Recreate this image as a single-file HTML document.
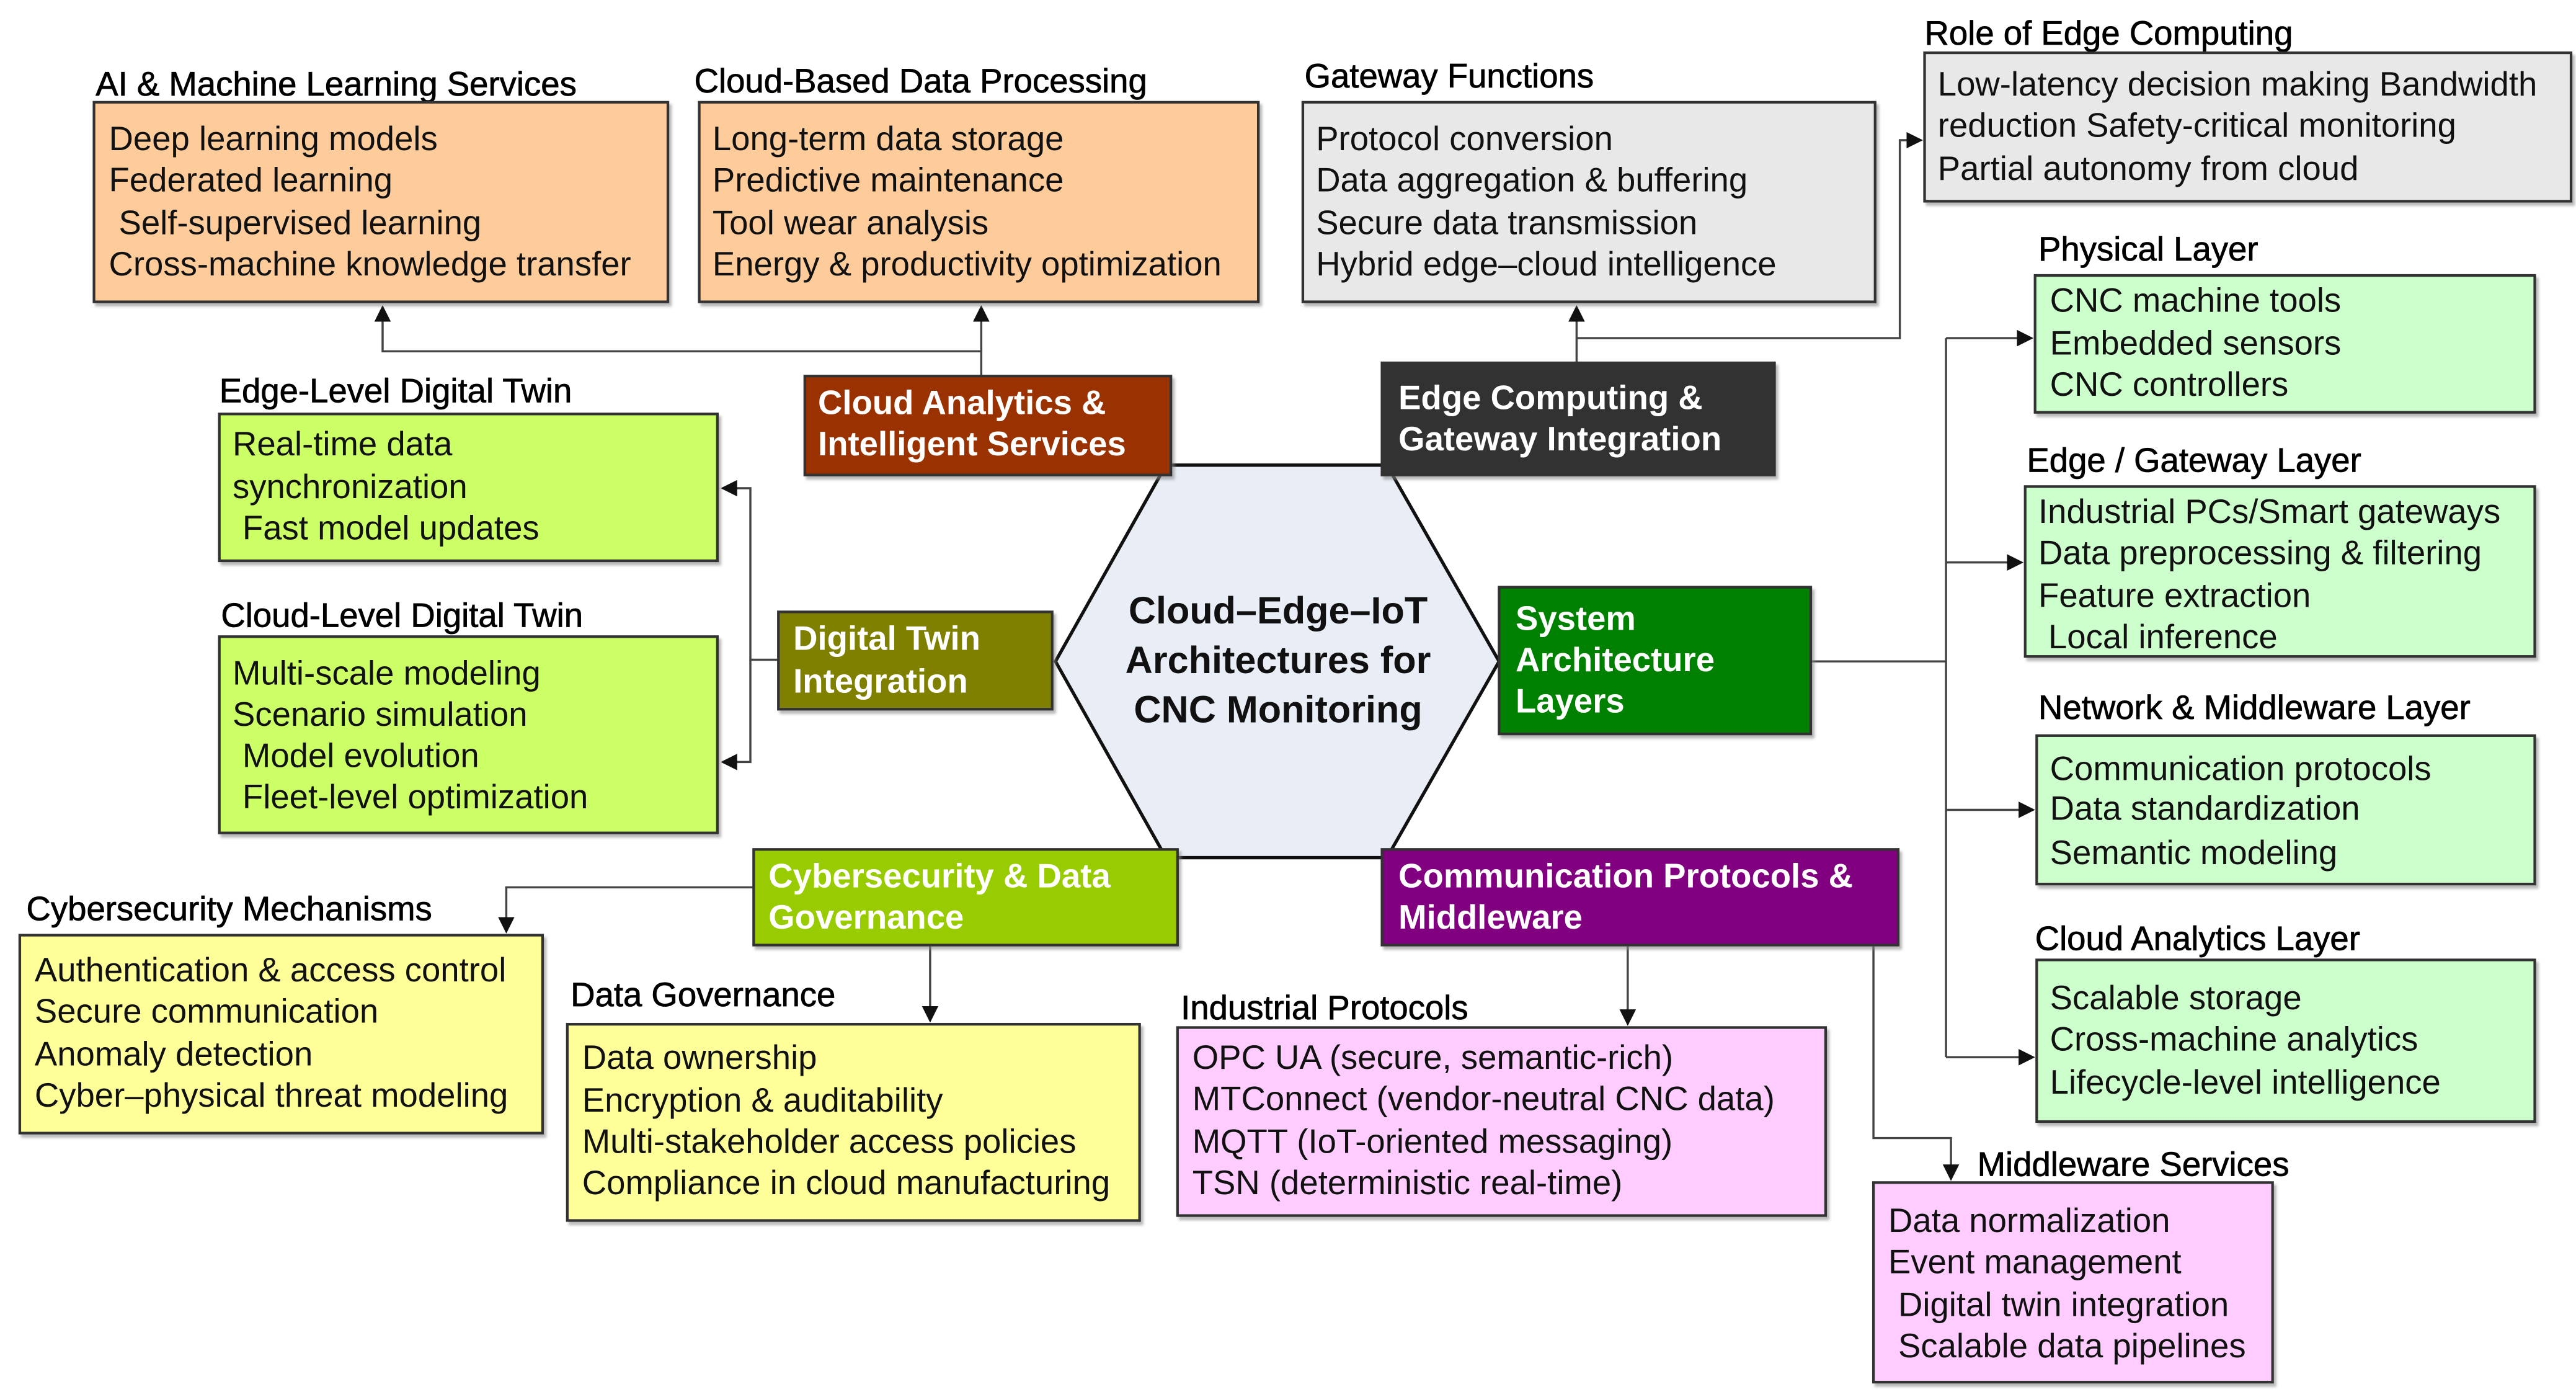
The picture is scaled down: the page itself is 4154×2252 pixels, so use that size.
<!DOCTYPE html>
<html><head><meta charset="utf-8"><style>
html,body{margin:0;padding:0;background:#fff;}
svg{display:block;}
text{font-family:"Liberation Sans",Arial,sans-serif;}
.t{font-size:20.5px;fill:#111;}
.h{font-size:20.5px;fill:#000;stroke:#000;stroke-width:0.3;}
.w{font-size:20.5px;fill:#fff;font-weight:bold;}
.c{font-size:23px;font-weight:bold;fill:#111;}
.b{stroke:#333;stroke-width:1.6;}
.l{stroke:#444;stroke-width:1.3;fill:none;}
</style></head><body>
<svg width="4154" height="2252" viewBox="0 0 1562 847" preserveAspectRatio="none" xmlns="http://www.w3.org/2000/svg">
<defs>
<marker id="a" markerWidth="10" markerHeight="10" refX="9" refY="5" orient="auto" markerUnits="userSpaceOnUse"><path d="M0,0 L10,5 L0,10 Z" fill="#111"/></marker>
<filter id="s" x="-5%" y="-5%" width="110%" height="115%"><feDropShadow dx="1.5" dy="2" stdDeviation="0.8" flood-color="#888" flood-opacity="0.6"/></filter>
</defs>

<path class="l" d="M595,228 V213 H232 V186" marker-end="url(#a)"/>
<path class="l" d="M595,213 V186" marker-end="url(#a)"/>
<path class="l" d="M956,220 V186" marker-end="url(#a)"/>
<path class="l" d="M956,205 H1152 V85 H1165" marker-end="url(#a)"/>
<path class="l" d="M472,400 H455 V296 H438" marker-end="url(#a)"/>
<path class="l" d="M455,400 V462 H438" marker-end="url(#a)"/>
<path class="l" d="M1098,401 H1180"/>
<path class="l" d="M1180,205 V641"/>
<path class="l" d="M1180,205 H1232" marker-end="url(#a)"/>
<path class="l" d="M1180,341 H1226" marker-end="url(#a)"/>
<path class="l" d="M1180,491 H1233" marker-end="url(#a)"/>
<path class="l" d="M1180,641 H1233" marker-end="url(#a)"/>
<path class="l" d="M457,538 H307 V565" marker-end="url(#a)"/>
<path class="l" d="M564,573 V619" marker-end="url(#a)"/>
<path class="l" d="M987,573 V621" marker-end="url(#a)"/>
<path class="l" d="M1136,573 V690 H1183 V715" marker-end="url(#a)"/>

<polygon points="640,401 707,282 841,282 909,401 841,520 707,520" fill="#e8edf6" stroke="#111" stroke-width="2"/>
<text class="c" x="775" y="378" text-anchor="middle">Cloud–Edge–IoT</text>
<text class="c" x="775" y="408" text-anchor="middle">Architectures for</text>
<text class="c" x="775" y="438" text-anchor="middle">CNC Monitoring</text>

<rect x="488" y="228" width="222" height="60" fill="#993300" class="b" filter="url(#s)"/>
<text class="w" x="496" y="251">Cloud Analytics &amp;</text>
<text class="w" x="496" y="276">Intelligent Services</text>

<rect x="838" y="220" width="238" height="68" fill="#333333" class="b" filter="url(#s)"/>
<text class="w" x="848" y="248">Edge Computing &amp;</text>
<text class="w" x="848" y="273">Gateway Integration</text>

<rect x="472" y="371" width="166" height="59" fill="#808000" class="b" filter="url(#s)"/>
<text class="w" x="481" y="394">Digital Twin</text>
<text class="w" x="481" y="420">Integration</text>

<rect x="909" y="356" width="189" height="89" fill="#008000" class="b" filter="url(#s)"/>
<text class="w" x="919" y="382">System</text>
<text class="w" x="919" y="407">Architecture</text>
<text class="w" x="919" y="432">Layers</text>

<rect x="457" y="515" width="257" height="58" fill="#99cc00" class="b" filter="url(#s)"/>
<text class="w" x="466" y="538">Cybersecurity &amp; Data</text>
<text class="w" x="466" y="563">Governance</text>

<rect x="838" y="515" width="313" height="58" fill="#800080" class="b" filter="url(#s)"/>
<text class="w" x="848" y="538">Communication Protocols &amp;</text>
<text class="w" x="848" y="563">Middleware</text>

<text class="h" x="58" y="58">AI &amp; Machine Learning Services</text>
<rect x="57" y="62" width="348" height="121" fill="#fecb9b" class="b" filter="url(#s)"/>
<text class="t" x="66" y="91">Deep learning models</text>
<text class="t" x="66" y="116">Federated learning</text>
<text class="t" x="72" y="142">Self-supervised learning</text>
<text class="t" x="66" y="167">Cross-machine knowledge transfer</text>

<text class="h" x="421" y="56">Cloud-Based Data Processing</text>
<rect x="424" y="62" width="339" height="121" fill="#fecb9b" class="b" filter="url(#s)"/>
<text class="t" x="432" y="91">Long-term data storage</text>
<text class="t" x="432" y="116">Predictive maintenance</text>
<text class="t" x="432" y="142">Tool wear analysis</text>
<text class="t" x="432" y="167">Energy &amp; productivity optimization</text>

<text class="h" x="791" y="53">Gateway Functions</text>
<rect x="790" y="62" width="347" height="121" fill="#e8e8e8" class="b" filter="url(#s)"/>
<text class="t" x="798" y="91">Protocol conversion</text>
<text class="t" x="798" y="116">Data aggregation &amp; buffering</text>
<text class="t" x="798" y="142">Secure data transmission</text>
<text class="t" x="798" y="167">Hybrid edge–cloud intelligence</text>

<text class="h" x="1167" y="27">Role of Edge Computing</text>
<rect x="1167" y="32" width="392" height="90" fill="#e8e8e8" class="b" filter="url(#s)"/>
<text class="t" x="1175" y="58">Low-latency decision making Bandwidth</text>
<text class="t" x="1175" y="83">reduction Safety-critical monitoring</text>
<text class="t" x="1175" y="109">Partial autonomy from cloud</text>

<text class="h" x="1236" y="158">Physical Layer</text>
<rect x="1234" y="167" width="303" height="83" fill="#ccffcc" class="b" filter="url(#s)"/>
<text class="t" x="1243" y="189">CNC machine tools</text>
<text class="t" x="1243" y="215">Embedded sensors</text>
<text class="t" x="1243" y="240">CNC controllers</text>

<text class="h" x="1229" y="286">Edge / Gateway Layer</text>
<rect x="1228" y="295" width="309" height="103" fill="#ccffcc" class="b" filter="url(#s)"/>
<text class="t" x="1236" y="317">Industrial PCs/Smart gateways</text>
<text class="t" x="1236" y="342">Data preprocessing &amp; filtering</text>
<text class="t" x="1236" y="368">Feature extraction</text>
<text class="t" x="1242" y="393">Local inference</text>

<text class="h" x="1236" y="436">Network &amp; Middleware Layer</text>
<rect x="1235" y="446" width="302" height="90" fill="#ccffcc" class="b" filter="url(#s)"/>
<text class="t" x="1243" y="473">Communication protocols</text>
<text class="t" x="1243" y="497">Data standardization</text>
<text class="t" x="1243" y="524">Semantic modeling</text>

<text class="h" x="1234" y="576">Cloud Analytics Layer</text>
<rect x="1235" y="582" width="302" height="98" fill="#ccffcc" class="b" filter="url(#s)"/>
<text class="t" x="1243" y="612">Scalable storage</text>
<text class="t" x="1243" y="637">Cross-machine analytics</text>
<text class="t" x="1243" y="663">Lifecycle-level intelligence</text>

<text class="h" x="1199" y="713">Middleware Services</text>
<rect x="1136" y="717" width="242" height="121" fill="#ffccff" class="b" filter="url(#s)"/>
<text class="t" x="1145" y="747">Data normalization</text>
<text class="t" x="1145" y="772">Event management</text>
<text class="t" x="1151" y="798">Digital twin integration</text>
<text class="t" x="1151" y="823">Scalable data pipelines</text>

<text class="h" x="716" y="618">Industrial Protocols</text>
<rect x="714" y="623" width="393" height="114" fill="#ffccff" class="b" filter="url(#s)"/>
<text class="t" x="723" y="648">OPC UA (secure, semantic-rich)</text>
<text class="t" x="723" y="673">MTConnect (vendor-neutral CNC data)</text>
<text class="t" x="723" y="699">MQTT (IoT-oriented messaging)</text>
<text class="t" x="723" y="724">TSN (deterministic real-time)</text>

<text class="h" x="346" y="610">Data Governance</text>
<rect x="344" y="621" width="347" height="119" fill="#ffff99" class="b" filter="url(#s)"/>
<text class="t" x="353" y="648">Data ownership</text>
<text class="t" x="353" y="674">Encryption &amp; auditability</text>
<text class="t" x="353" y="699">Multi-stakeholder access policies</text>
<text class="t" x="353" y="724">Compliance in cloud manufacturing</text>

<text class="h" x="16" y="558">Cybersecurity Mechanisms</text>
<rect x="12" y="567" width="317" height="120" fill="#ffff99" class="b" filter="url(#s)"/>
<text class="t" x="21" y="595">Authentication &amp; access control</text>
<text class="t" x="21" y="620">Secure communication</text>
<text class="t" x="21" y="646">Anomaly detection</text>
<text class="t" x="21" y="671">Cyber–physical threat modeling</text>

<text class="h" x="133" y="244">Edge-Level Digital Twin</text>
<rect x="133" y="251" width="302" height="89" fill="#ccff66" class="b" filter="url(#s)"/>
<text class="t" x="141" y="276">Real-time data</text>
<text class="t" x="141" y="302">synchronization</text>
<text class="t" x="147" y="327">Fast model updates</text>

<text class="h" x="134" y="380">Cloud-Level Digital Twin</text>
<rect x="133" y="386" width="302" height="119" fill="#ccff66" class="b" filter="url(#s)"/>
<text class="t" x="141" y="415">Multi-scale modeling</text>
<text class="t" x="141" y="440">Scenario simulation</text>
<text class="t" x="147" y="465">Model evolution</text>
<text class="t" x="147" y="490">Fleet-level optimization</text>
</svg>
</body></html>
